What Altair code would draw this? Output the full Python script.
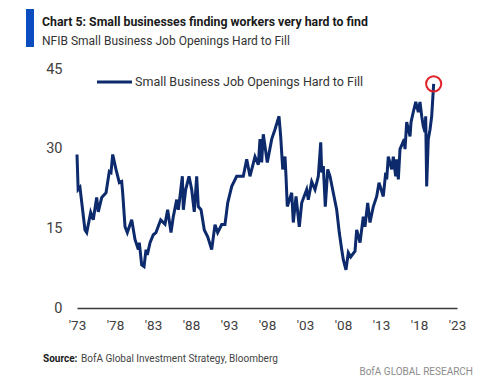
import altair as alt
import pandas as pd

# ---- data ----
years = [
    1973.0, 1973.15, 1973.39, 1974.05, 1974.28, 1974.80, 1975.14, 1975.59, 1975.80, 1976.25,
    1976.82, 1977.25, 1977.47, 1977.70, 1978.13, 1978.57, 1978.88, 1979.01, 1979.32, 1979.62,
    1980.20, 1980.63, 1981.07, 1981.20, 1981.51, 1981.82, 1982.08, 1982.25, 1982.61, 1983.04,
    1983.39, 1984.01, 1984.58, 1984.93, 1985.37, 1985.67, 1986.12, 1986.33, 1986.55, 1986.86,
    1986.99, 1987.30, 1987.74, 1988.09, 1988.43, 1988.75, 1988.96, 1989.32, 1989.75, 1990.20,
    1990.72, 1991.16, 1991.51, 1992.04, 1992.47, 1992.83, 1993.36, 1994.01, 1994.88, 1995.33,
    1995.76, 1996.42, 1996.86, 1997.08, 1997.30, 1997.51, 1998.04, 1998.62, 1999.05, 1999.58,
    1999.80, 2000.07, 2000.37, 2000.50, 2000.67, 2001.25, 2001.46, 2001.82, 2002.25, 2002.57,
    2003.22, 2003.43, 2003.88, 2004.32, 2004.75, 2005.07, 2005.20, 2005.41, 2005.67, 2005.99,
    2006.29, 2006.82, 2007.17, 2007.51, 2007.83, 2008.04, 2008.39, 2008.70, 2009.01, 2009.58,
    2009.80, 2010.24, 2010.67, 2010.89, 2011.25, 2011.55, 2011.99, 2012.43, 2012.74, 2013.30,
    2013.62, 2013.75, 2013.96, 2014.41, 2014.62, 2014.93, 2015.07, 2015.28, 2015.50, 2016.07,
    2016.16, 2016.38, 2016.82, 2016.95, 2017.25, 2017.57, 2017.91, 2018.13, 2018.36, 2018.57,
    2018.79, 2018.88, 2019.01, 2019.22, 2019.45, 2019.67, 2019.93,
]
values = [
    28.9, 22.3, 22.7, 14.7, 14.2, 18.0, 16.6, 20.8, 18.1, 20.8,
    21.7, 25.7, 25.5, 28.9, 26.1, 23.6, 23.8, 21.7, 15.3, 14.2,
    16.6, 12.9, 11.0, 12.3, 8.1, 7.8, 11.0, 10.0, 12.3, 13.8,
    14.2, 16.6, 15.8, 18.5, 14.2, 17.2, 20.4, 18.5, 21.0, 24.8,
    18.5, 22.3, 24.8, 22.3, 18.1, 24.8, 19.1, 18.5, 14.7, 13.4,
    11.0, 15.7, 14.2, 15.7, 15.7, 19.8, 22.9, 24.8, 24.8, 28.0,
    24.8, 28.5, 27.0, 31.8, 27.4, 32.7, 27.4, 31.8, 33.6, 36.1,
    32.3, 26.1, 28.5, 24.8, 19.1, 21.7, 16.1, 21.0, 15.3, 19.8,
    22.3, 20.4, 23.8, 22.3, 24.8, 31.2, 25.5, 26.7, 19.1, 26.1,
    24.8, 21.0, 18.5, 14.2, 11.0, 9.1, 7.2, 10.4, 9.6, 10.7,
    14.7, 12.3, 17.2, 15.3, 19.8, 16.1, 19.1, 21.0, 23.6, 21.0,
    25.5, 24.2, 28.5, 26.1, 28.5, 24.8, 28.0, 24.2, 29.9, 31.8,
    29.9, 35.0, 32.3, 35.0, 36.9, 38.8, 36.9, 38.8, 36.1, 34.2,
    33.1, 36.1, 22.9, 31.8, 33.6, 36.1, 42.2,
]
x_ticks = [1973, 1978, 1983, 1988, 1993, 1998, 2003, 2008, 2013, 2018, 2023]
y_ticks = [0, 15, 30, 45]

title_text = "Chart 5: Small businesses finding workers very hard to find"
subtitle_text = "NFIB Small Business Job Openings Hard to Fill"
series_name = "Small Business Job Openings Hard to Fill"
source_label = "Source:"
source_text = "BofA Global Investment Strategy, Bloomberg"
brand_text = "BofA GLOBAL RESEARCH"

df = pd.DataFrame({"year": years, "value": values, "series": series_name})
last_point = df.tail(1)
one_row = pd.DataFrame({"k": [0]})

NAVY = "#0c2a6c"
RED = "#e1232b"
BLUE_BAR = "#0b4cc0"
FONT = "Roboto, Liberation Sans, sans-serif"

x_enc = alt.X(
    "year:Q",
    scale=alt.Scale(domain=[1973, 2023], nice=False, zero=False),
    axis=alt.Axis(
        values=x_ticks,
        labelExpr="\"'\" + substring(toString(datum.value), 2)",
        title=None, grid=False, ticks=False, tickSize=0,
        domainColor="#3a3a3a", domainWidth=1.5,
        labelPadding=10, labelFontSize=13.5, labelColor="#404040",
        labelFont=FONT, labelFlush=False,
    ),
)
y_enc = alt.Y(
    "value:Q",
    scale=alt.Scale(domain=[0, 45], nice=False),
    axis=alt.Axis(
        values=y_ticks, title=None, grid=False, ticks=False, tickSize=0,
        domain=False, labelPadding=15, labelFontSize=14.5, labelColor="#404040",
        labelFont=FONT,
    ),
)

line = alt.Chart(df).mark_line(color=NAVY, strokeWidth=3).encode(x=x_enc, y=y_enc)

circle = alt.Chart(last_point).mark_point(
    shape="circle", size=230, filled=False, color=RED, strokeWidth=2, opacity=1
).encode(x=x_enc, y=y_enc)

bar = alt.Chart(one_row).mark_rect(color=BLUE_BAR).encode(
    x=alt.value(-51), x2=alt.value(-43), y=alt.value(-60), y2=alt.value(-22)
)

title = alt.Chart(one_row).mark_text(
    text=title_text, align="left", baseline="alphabetic", font=FONT,
    fontSize=12.3, fontWeight="bold", color="#1a1a1a"
).encode(x=alt.value(-35), y=alt.value(-43))

subtitle = alt.Chart(one_row).mark_text(
    text=subtitle_text, align="left", baseline="alphabetic", font=FONT,
    fontSize=12, color="#333333"
).encode(x=alt.value(-35), y=alt.value(-24))

legend_line = alt.Chart(one_row).mark_rule(color=NAVY, strokeWidth=3).encode(
    x=alt.value(20), x2=alt.value(55), y=alt.value(13)
)
legend_text = alt.Chart(one_row).mark_text(
    text=series_name, align="left", baseline="middle", font=FONT,
    fontSize=12.5, color="#333333"
).encode(x=alt.value(58), y=alt.value(12.5))

source_bold = alt.Chart(one_row).mark_text(
    text=source_label, align="left", baseline="alphabetic", font=FONT,
    fontSize=10, fontWeight="bold", color="#1a1a1a"
).encode(x=alt.value(-34), y=alt.value(293))
source_rest = alt.Chart(one_row).mark_text(
    text=source_text, align="left", baseline="alphabetic", font=FONT,
    fontSize=10, color="#444444"
).encode(x=alt.value(4), y=alt.value(293))
brand = alt.Chart(one_row).mark_text(
    text=brand_text, align="right", baseline="alphabetic", font=FONT,
    fontSize=10, color="#8c8c8c"
).encode(x=alt.value(396), y=alt.value(306))

chart = alt.layer(
    line, circle, bar, title, subtitle, legend_line, legend_text,
    source_bold, source_rest, brand
).properties(
    width=380, height=239,
    autosize=alt.AutoSizeParams(type="none"),
    padding={"left": 69, "top": 61, "right": 35, "bottom": 69},
).configure_view(stroke=None)

chart.save("out.html", embed_options={"renderer": "svg", "actions": False})
